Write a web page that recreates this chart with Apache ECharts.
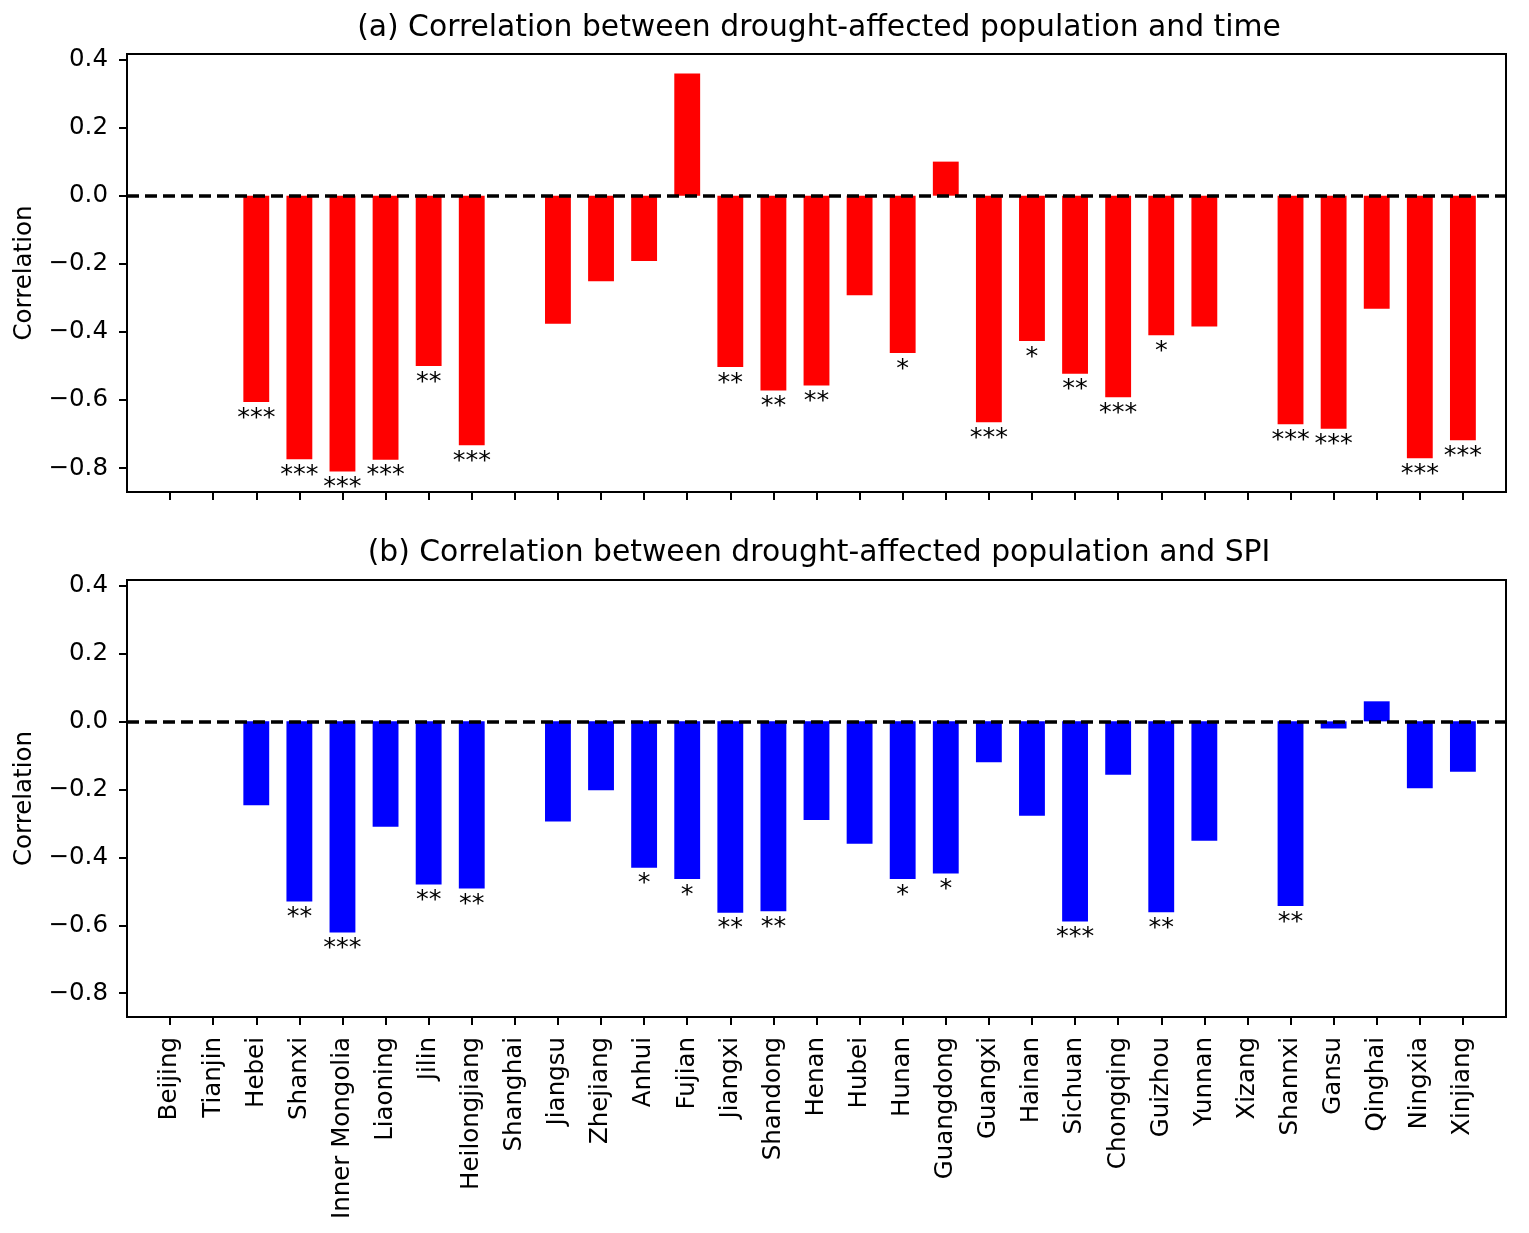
<!DOCTYPE html>
<html>
<head>
<meta charset="utf-8">
<script src="https://cdn.jsdelivr.net/npm/echarts@6/dist/echarts.min.js"></script>
<style>
html,body{margin:0;padding:0;background:#fff;}
#chart{width:1529px;height:1233px;}
</style>
</head>
<body>
<div id="chart"></div>
<script>
const provinces = ['Beijing','Tianjin','Hebei','Shanxi','Inner Mongolia','Liaoning','Jilin','Heilongjiang','Shanghai','Jiangsu','Zhejiang','Anhui','Fujian','Jiangxi','Shandong','Henan','Hubei','Hunan','Guangdong','Guangxi','Hainan','Sichuan','Chongqing','Guizhou','Yunnan','Xizang','Shannxi','Gansu','Qinghai','Ningxia','Xinjiang'];

const corrTime = [null, null, -0.606, -0.774, -0.810, -0.775, -0.500, -0.733, null, -0.376, -0.251, -0.192, 0.359, -0.503, -0.572, -0.557, -0.292, -0.462, 0.100, -0.665, -0.427, -0.523, -0.592, -0.410, -0.384, null, -0.671, -0.684, -0.332, -0.771, -0.718];
const sigTime = ['', '', '***', '***', '***', '***', '**', '***', '', '', '', '', '', '**', '**', '**', '', '*', '', '***', '*', '**', '***', '*', '', '', '***', '***', '', '***', '***'];

const corrSPI = [null, null, -0.247, -0.530, -0.621, -0.310, -0.480, -0.492, null, -0.295, -0.203, -0.431, -0.464, -0.563, -0.559, -0.290, -0.360, -0.464, -0.448, -0.120, -0.278, -0.589, -0.157, -0.562, -0.351, null, -0.543, -0.021, 0.059, -0.197, -0.148];
const sigSPI = ['', '', '', '**', '***', '', '**', '**', '', '', '', '*', '*', '**', '**', '', '', '*', '*', '', '', '***', '', '**', '', '', '**', '', '', '', ''];

const yTicks = [-0.8, -0.6, -0.4, -0.2, 0.0, 0.2, 0.4];
const titles = ['(a) Correlation between drought-affected population and time', '(b) Correlation between drought-affected population and SPI'];

const FONT = 'DejaVu Sans';
const FS = 24.5;
const TFS = 29.8;

const cats = [''].concat(provinces, ['']);
function pad(arr){ return ['-'].concat(arr.map(v => v === null ? '-' : v), ['-']); }
function stars(vals, sig){
  const out = [];
  sig.forEach((s, i) => { if (s) out.push({name: s, value: [i + 1, vals[i]]}); });
  return out;
}

const grids = [
  {left: 127, top: 54, width: 1379, height: 438},
  {left: 127, top: 580, width: 1379, height: 437}
];

function xAxis(idx, showLabels){
  return {
    type: 'category', gridIndex: idx, data: cats, boundaryGap: false,
    axisLine: {show: true, onZero: false, lineStyle: {color: '#000', width: 2}},
    axisTick: {show: true, inside: false, length: 8, lineStyle: {color: '#000', width: 2},
      interval: (i, v) => v !== ''},
    axisLabel: {show: showLabels, interval: 0, rotate: 90, margin: 20, color: '#000',
      fontFamily: FONT, fontSize: FS},
    splitLine: {show: false}
  };
}
function yAxis(idx){
  return {
    type: 'value', gridIndex: idx, min: -0.87, max: 0.416,
    name: 'Correlation', nameLocation: 'middle', nameGap: 80,
    nameTextStyle: {color: '#000', fontFamily: FONT, fontSize: FS},
    axisLine: {show: true, lineStyle: {color: '#000', width: 2}},
    axisTick: {show: true, length: 8, lineStyle: {color: '#000', width: 2}, customValues: yTicks},
    axisLabel: {show: true, margin: 19, color: '#000', fontFamily: FONT, fontSize: FS,
      customValues: yTicks,
      formatter: v => (v < -1e-9 ? '\u2212' : '') + Math.abs(v).toFixed(1)},
    splitLine: {show: false}
  };
}
function barSeries(idx, vals, color){
  return {
    type: 'bar', xAxisIndex: idx, yAxisIndex: idx, data: pad(vals), barWidth: '60%',
    itemStyle: {color: color}, z: 2, silent: true,
    markLine: {silent: true, symbol: 'none', z: 6, label: {show: false},
      lineStyle: {color: '#000', width: 3.5, type: [12, 6]},
      data: [{yAxis: 0}]}
  };
}
function starSeries(idx, vals, sig){
  return {
    type: 'scatter', xAxisIndex: idx, yAxisIndex: idx, data: stars(vals, sig),
    symbolSize: 1, itemStyle: {color: 'rgba(0,0,0,0)'}, silent: true, z: 7,
    label: {show: true, position: 'bottom', distance: 3, formatter: '{b}',
      color: '#000', opacity: 1, textBorderWidth: 0, fontFamily: FONT, fontSize: 25.5, lineHeight: 25}
  };
}

const chart = echarts.init(document.getElementById('chart'));
chart.setOption({
  backgroundColor: '#fff',
  animation: false,
  graphic: [
    {type: 'text', x: 819, y: 28, style: {text: titles[0], fill: '#000', font: TFS + 'px "DejaVu Sans"', textAlign: 'center', textVerticalAlign: 'middle'}},
    {type: 'text', x: 819, y: 553, style: {text: titles[1], fill: '#000', font: TFS + 'px "DejaVu Sans"', textAlign: 'center', textVerticalAlign: 'middle'}}
  ],
  grid: grids.map(g => Object.assign({show: true, borderColor: '#000', borderWidth: 2, backgroundColor: 'transparent'}, g)),
  xAxis: [xAxis(0, false), xAxis(1, true)],
  yAxis: [yAxis(0), yAxis(1)],
  series: [
    barSeries(0, corrTime, '#ff0000'),
    starSeries(0, corrTime, sigTime),
    barSeries(1, corrSPI, '#0000ff'),
    starSeries(1, corrSPI, sigSPI)
  ]
});
</script>
</body>
</html>
